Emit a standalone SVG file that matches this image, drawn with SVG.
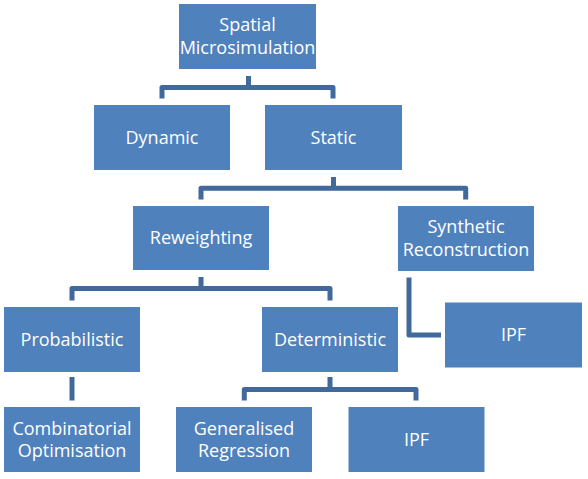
<svg xmlns="http://www.w3.org/2000/svg" width="588" height="479" viewBox="0 0 588 479">
<style>
.box{fill:#4F81BD}
.lbl{fill:#FFFFFF;font-family:"Open Sans","Liberation Sans",sans-serif;font-size:18px;text-anchor:middle}
.con{fill:none;stroke:#41699B;stroke-width:5;stroke-linejoin:round;stroke-linecap:butt}
</style>
<rect width="588" height="479" fill="#FFFFFF"/>
<g id="connectors">
<path class="con" d="M248.5 76V87.5M162 98.5V87.5H333V98.5"/>
<path class="con" d="M333.5 177V188.3M201 199.5V188.3H465.7V199.5"/>
<path class="con" d="M201 277V288.5M72 300.5V288.5H330V300.5"/>
<path class="con" d="M409 277.5V335H441"/>
<path class="con" d="M72 377V400.5"/>
<path class="con" d="M330 377V389.5M244.3 400.5V389.5H416V400.5"/>
</g>
<g id="spatial"><rect class="box" x="179" y="4" width="137" height="65"/><text class="lbl" x="247.5" y="31">Spatial</text><text class="lbl" x="247.5" y="54">Microsimulation</text></g>
<g id="dynamic"><rect class="box" x="94" y="105" width="136" height="65"/><text class="lbl" x="162" y="143.5">Dynamic</text></g>
<g id="static"><rect class="box" x="265" y="105" width="137" height="65"/><text class="lbl" x="333.5" y="143.5">Static</text></g>
<g id="reweighting"><rect class="box" x="133" y="206" width="136" height="64"/><text class="lbl" x="201" y="244">Reweighting</text></g>
<g id="synthetic"><rect class="box" x="398" y="206" width="136" height="65"/><text class="lbl" x="466" y="233">Synthetic</text><text class="lbl" x="466" y="255.5">Reconstruction</text></g>
<g id="probabilistic"><rect class="box" x="4" y="307" width="136" height="65"/><text class="lbl" x="72" y="345.5">Probabilistic</text></g>
<g id="deterministic"><rect class="box" x="262" y="307" width="136" height="65"/><text class="lbl" x="330" y="345.5">Deterministic</text></g>
<g id="ipf-sr"><rect class="box" x="445" y="302.5" width="137" height="65"/><text class="lbl" x="513.5" y="341">IPF</text></g>
<g id="combinatorial"><rect class="box" x="4" y="407" width="136" height="65"/><text class="lbl" x="72" y="434.5">Combinatorial</text><text class="lbl" x="72" y="457">Optimisation</text></g>
<g id="genreg"><rect class="box" x="176" y="407" width="136" height="65"/><text class="lbl" x="244" y="434.5">Generalised</text><text class="lbl" x="244" y="457">Regression</text></g>
<g id="ipf-det"><rect class="box" x="348.5" y="407" width="136" height="65"/><text class="lbl" x="416.5" y="445.5">IPF</text></g>
</svg>
